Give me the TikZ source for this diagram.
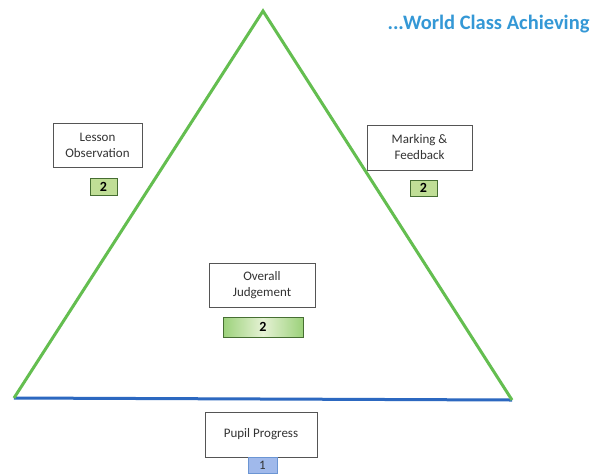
\documentclass[tikz,border=0pt]{standalone}
\usepackage{fontspec}
\setmainfont{Carlito}
\usetikzlibrary{shadows}
\definecolor{trigreen}{RGB}{100,190,80}
\definecolor{triblue}{RGB}{44,104,192}
\definecolor{titleblue}{RGB}{52,152,214}
\definecolor{badgegreen}{RGB}{192,222,150}
\definecolor{badgedark}{RGB}{70,110,50}
\definecolor{badgeblue}{RGB}{160,185,235}
\definecolor{boxline}{RGB}{85,85,85}
\tikzset{
  infobox/.style={draw=boxline, line width=0.9pt, fill=white, align=center,
    font=\fontsize{13}{16}\selectfont, text=black!80, inner sep=0pt,
    drop shadow={shadow xshift=1.2pt, shadow yshift=-1.2pt, opacity=0.25}},
  gbadge/.style={draw=badgedark, line width=0.9pt, fill=badgegreen, inner sep=0pt,
    font=\bfseries\fontsize{14}{14}\selectfont},
  bbadge/.style={draw=triblue!70, line width=0.7pt, fill=badgeblue, inner sep=0pt,
    font=\fontsize{13}{13}\selectfont, text=black!80},
  greenside/.style={draw=trigreen, line width=3pt, line join=miter},
  blueside/.style={draw=triblue, line width=3pt},
}
\begin{document}
\begin{tikzpicture}[x=1pt,y=-1pt]
\useasboundingbox (0,0) rectangle (599,475);
\fill[white] (0,0) rectangle (599,475);
\coordinate (A) at (263,11);
\coordinate (B) at (14,398);
\coordinate (C) at (512,400);
\draw[blueside] (B) -- (C);
\draw[greenside] (B) -- (A) -- (C);
\node[anchor=base west, font=\bfseries\fontsize{20.5}{20.5}\selectfont, text=titleblue] (title) at (384,29) {...World Class Achieving};
% Lesson Observation
\node[infobox, minimum width=89pt, minimum height=44pt] (lo) at (97.5,145) {Lesson\\Observation};
\node[gbadge, minimum width=27pt, minimum height=17pt] (lob) at (103.5,186.5) {2};
% Marking & Feedback
\node[infobox, minimum width=105pt, minimum height=45pt] (mf) at (419.5,147.5) {Marking \&\\Feedback};
\node[gbadge, minimum width=27pt, minimum height=16pt] (mfb) at (423.5,188) {2};
% Overall Judgement
\node[infobox, minimum width=106pt, minimum height=44pt] (oj) at (262,285) {Overall\\Judgement};
\node[draw=badgedark, line width=0.9pt, inner sep=0pt, minimum width=80pt, minimum height=20pt,
  shading=axis, left color=badgegreen!60!trigreen, right color=badgegreen!60!trigreen, middle color=white!60!badgegreen,
  font=\bfseries\fontsize{14}{14}\selectfont] (ojb) at (263,327) {2};
% Pupil Progress
\node[infobox, minimum width=112pt, minimum height=45pt] (pp) at (261,434.5) {Pupil Progress};
\node[bbadge, minimum width=29pt, minimum height=16pt, anchor=north] (ppb) at (262.5,457) {1};
\end{tikzpicture}
\end{document}
